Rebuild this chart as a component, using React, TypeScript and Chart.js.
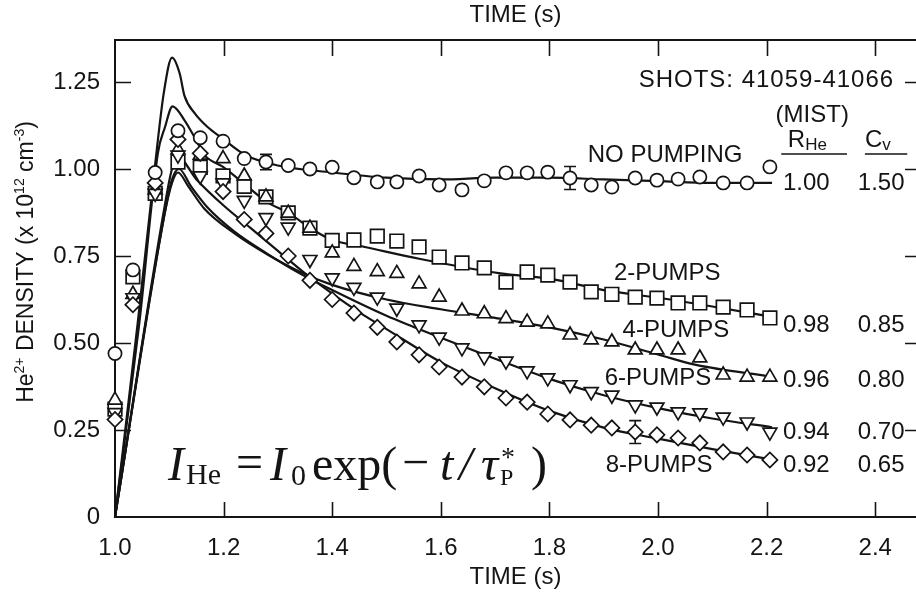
import React, { useEffect, useRef } from "react";
import { Chart, registerables } from "chart.js";

Chart.register(...registerables);

// ---------------- data ----------------
const times = [1.0, 1.033, 1.074, 1.116, 1.157, 1.199, 1.238, 1.278, 1.319, 1.359, 1.4, 1.44, 1.483, 1.519, 1.56, 1.597, 1.639, 1.68, 1.72, 1.759, 1.797, 1.838, 1.877, 1.915, 1.958, 1.998, 2.037, 2.077, 2.12, 2.164, 2.206];

const noPumping = [0.47, 0.71, 0.99, 1.11, 1.09, 1.08, 1.03, 1.02, 1.01, 1.0, 1.005, 0.975, 0.963, 0.963, 0.98, 0.954, 0.94, 0.966, 0.989, 0.989, 0.991, 0.974, 0.954, 0.948, 0.974, 0.968, 0.971, 0.977, 0.96, 0.96, 1.006];
const pumps2 = [0.31, 0.69, 0.93, 1.02, 1.005, 0.98, 0.95, 0.92, 0.874, 0.83, 0.795, 0.796, 0.807, 0.793, 0.776, 0.747, 0.73, 0.716, 0.675, 0.704, 0.695, 0.675, 0.647, 0.64, 0.632, 0.629, 0.615, 0.615, 0.603, 0.595, 0.572];
const pumps4 = [0.336, 0.64, 0.94, 1.055, 1.04, 1.03, 0.98, 0.92, 0.873, 0.83, 0.759, 0.72, 0.705, 0.7, 0.67, 0.632, 0.592, 0.584, 0.57, 0.56, 0.555, 0.523, 0.509, 0.503, 0.48, 0.48, 0.48, 0.457, 0.408, 0.402, 0.402];
const pumps6 = [0.3, 0.63, 0.93, 1.04, 0.98, 0.96, 0.91, 0.86, 0.833, 0.74, 0.687, 0.66, 0.632, 0.6, 0.552, 0.517, 0.486, 0.46, 0.448, 0.42, 0.4, 0.38, 0.36, 0.35, 0.322, 0.316, 0.302, 0.299, 0.287, 0.273, 0.244];
const pumps8 = [0.28, 0.61, 0.96, 1.085, 1.045, 0.935, 0.855, 0.815, 0.75, 0.68, 0.625, 0.586, 0.545, 0.503, 0.466, 0.431, 0.402, 0.374, 0.342, 0.33, 0.296, 0.279, 0.264, 0.256, 0.244, 0.236, 0.227, 0.213, 0.187, 0.178, 0.164];

// model curves (solid lines)
const fitNoPumpingT = [1.0, 1.042, 1.073, 1.09, 1.105, 1.119, 1.128, 1.147, 1.171, 1.196, 1.24, 1.3, 1.4, 1.5, 1.6, 1.7, 1.8, 1.9, 2.0, 2.1, 2.21];
const fitNoPumping = [0, 0.56, 1.0, 1.22, 1.32, 1.275, 1.21, 1.16, 1.12, 1.09, 1.04, 1.01, 0.99, 0.975, 0.97, 0.975, 0.975, 0.97, 0.965, 0.96, 0.96];
const fit2T = [1.0, 1.045, 1.079, 1.092, 1.106, 1.128, 1.147, 1.165, 1.199, 1.236, 1.28, 1.319, 1.365, 1.4, 1.46, 1.56, 1.71, 1.8, 1.9, 2.0, 2.1, 2.21];
const fit2 = [0, 0.56, 1.046, 1.12, 1.18, 1.14, 1.09, 1.04, 1.006, 0.96, 0.905, 0.874, 0.825, 0.796, 0.776, 0.742, 0.7, 0.685, 0.652, 0.63, 0.605, 0.575];
const fit4T = [1.0, 1.09, 1.105, 1.116, 1.135, 1.165, 1.22, 1.28, 1.34, 1.4, 1.5, 1.6, 1.7, 1.8, 1.9, 2.0, 2.07, 2.21];
const fit4 = [0, 0.86, 0.96, 0.99, 0.95, 0.885, 0.815, 0.755, 0.705, 0.667, 0.625, 0.597, 0.572, 0.545, 0.51, 0.467, 0.437, 0.403];
const fit6T = [1.0, 1.09, 1.105, 1.118, 1.14, 1.17, 1.22, 1.28, 1.34, 1.4, 1.5, 1.55, 1.6, 1.7, 1.8, 1.9, 2.0, 2.1, 2.21];
const fit6 = [0, 0.86, 0.97, 1.0, 0.95, 0.89, 0.82, 0.757, 0.7, 0.652, 0.578, 0.546, 0.515, 0.455, 0.397, 0.35, 0.313, 0.283, 0.258];
const fit8T = [1.0, 1.09, 1.105, 1.118, 1.15, 1.2, 1.25, 1.3, 1.35, 1.4, 1.45, 1.5, 1.6, 1.7, 1.8, 1.9, 2.0, 2.1, 2.21];
const fit8 = [0, 0.88, 1.0, 1.03, 0.97, 0.895, 0.83, 0.765, 0.7, 0.642, 0.588, 0.54, 0.445, 0.37, 0.305, 0.257, 0.225, 0.195, 0.165];

// error bars
const errTimes = [1.278, 1.838, 1.958];
const errValues = [1.02, 0.974, 0.244];
const errHalf = [0.022, 0.033, 0.033];

// axes
const xTickValues = [1.0, 1.2, 1.4, 1.6, 1.8, 2.0, 2.2, 2.4];
const xTickLabels = ["1.0", "1.2", "1.4", "1.6", "1.8", "2.0", "2.2", "2.4"];
const yTickValues = [0, 0.25, 0.5, 0.75, 1.0, 1.25];
const yTickLabels = ["0", "0.25", "0.50", "0.75", "1.00", "1.25"];

// annotation texts
const seriesNames = ["NO PUMPING", "2-PUMPS", "4-PUMPS", "6-PUMPS", "8-PUMPS"];
const rHeValues = ["1.00", "0.98", "0.96", "0.94", "0.92"];
const cvValues = ["1.50", "0.85", "0.80", "0.70", "0.65"];
const shotsText = "SHOTS: 41059-41066";

// ---------------- styling ----------------
const SANS = "'Liberation Sans', Arial, Helvetica, sans-serif";
const SERIF = "'Liberation Serif', 'Times New Roman', Times, serif";
const INK = "#141414";
const X_MIN = 1.0;
const X_MAX = 2.4751;
const Y_MIN = 0;
const Y_MAX = 1.3707;

function pts(xs: number[], ys: number[]) {
  return xs.map((x, i) => ({ x, y: ys[i] }));
}

type Run = { t: string; font: string; dy: number };

function drawRuns(ctx: CanvasRenderingContext2D, runs: Run[], x: number, y: number) {
  let cx = x;
  for (const r of runs) {
    ctx.font = r.font;
    ctx.fillText(r.t, cx, y + r.dy);
    cx += ctx.measureText(r.t).width;
  }
  return cx;
}

function runsWidth(ctx: CanvasRenderingContext2D, runs: Run[]) {
  let w = 0;
  for (const r of runs) {
    ctx.font = r.font;
    w += ctx.measureText(r.t).width;
  }
  return w;
}

const inwardTicks = {
  id: "inwardTicks",
  afterDraw(chart: any) {
    const { ctx, chartArea, scales } = chart;
    const { left, right, top, bottom } = chartArea;
    ctx.save();
    ctx.strokeStyle = INK;
    ctx.lineWidth = 1.6;
    ctx.beginPath();
    for (const v of xTickValues) {
      if (v === X_MIN) continue;
      const p = Math.round(scales.x.getPixelForValue(v)) + 0.5;
      ctx.moveTo(p, bottom);
      ctx.lineTo(p, bottom - 15);
      ctx.moveTo(p, top);
      ctx.lineTo(p, top + 16);
    }
    for (const v of yTickValues) {
      if (v === Y_MIN) continue;
      const p = Math.round(scales.y.getPixelForValue(v)) + 0.5;
      ctx.moveTo(left, p);
      ctx.lineTo(left + 16, p);
      ctx.moveTo(right, p);
      ctx.lineTo(right - 11, p);
    }
    ctx.stroke();
    ctx.restore();
  },
};

const errorBars = {
  id: "errorBars",
  beforeDatasetsDraw(chart: any) {
    const { ctx, scales } = chart;
    ctx.save();
    ctx.strokeStyle = INK;
    ctx.lineWidth = 1.6;
    ctx.beginPath();
    errTimes.forEach((t, i) => {
      const x = scales.x.getPixelForValue(t);
      const y1 = scales.y.getPixelForValue(errValues[i] + errHalf[i]);
      const y2 = scales.y.getPixelForValue(errValues[i] - errHalf[i]);
      ctx.moveTo(x, y1);
      ctx.lineTo(x, y2);
      ctx.moveTo(x - 6, y1);
      ctx.lineTo(x + 6, y1);
      ctx.moveTo(x - 6, y2);
      ctx.lineTo(x + 6, y2);
    });
    ctx.stroke();
    ctx.restore();
  },
};

const annotations = {
  id: "annotations",
  afterDraw(chart: any) {
    const { ctx, scales } = chart;
    const sx = (v: number) => scales.x.getPixelForValue(v);
    const sy = (v: number) => scales.y.getPixelForValue(v);
    ctx.save();
    ctx.fillStyle = INK;
    ctx.strokeStyle = INK;
    ctx.textBaseline = "middle";

    // y-axis title with superscripts (rotated)
    ctx.save();
    ctx.translate(27, 262);
    ctx.rotate(-Math.PI / 2);
    const big = `23px ${SANS}`;
    const sup = `14px ${SANS}`;
    const titleRuns: Run[] = [
      { t: "He", font: big, dy: 0 },
      { t: "2+", font: sup, dy: -7 },
      { t: " DENSITY (x 10", font: big, dy: 0 },
      { t: "12", font: sup, dy: -7 },
      { t: " cm", font: big, dy: 0 },
      { t: "-3", font: sup, dy: -7 },
      { t: ")", font: big, dy: 0 },
    ];
    ctx.textAlign = "left";
    drawRuns(ctx, titleRuns, -runsWidth(ctx, titleRuns) / 2, 0);
    ctx.restore();

    // header on the right
    ctx.font = `24px ${SANS}`;
    ctx.textAlign = "right";
    ctx.save();
    (ctx as any).letterSpacing = "1px";
    ctx.fillText(shotsText, sx(2.433) + 1, sy(1.256));
    ctx.restore();
    ctx.font = `24px ${SANS}`;
    ctx.textAlign = "center";
    ctx.fillText("(MIST)", sx(2.284), sy(1.155));
    ctx.textAlign = "left";
    drawRuns(ctx, [
      { t: "R", font: `24px ${SANS}`, dy: 0 },
      { t: "He", font: `17px ${SANS}`, dy: 5 },
    ], sx(2.239), sy(1.083));
    drawRuns(ctx, [
      { t: "C", font: `24px ${SANS}`, dy: 0 },
      { t: "v", font: `17px ${SANS}`, dy: 5 },
    ], sx(2.381), sy(1.083));
    ctx.lineWidth = 1.6;
    ctx.beginPath();
    ctx.moveTo(sx(2.227), sy(1.043));
    ctx.lineTo(sx(2.348), sy(1.043));
    ctx.moveTo(sx(2.381), sy(1.043));
    ctx.lineTo(sx(2.459), sy(1.043));
    ctx.stroke();

    // parameter table
    const rowY = [0.96, 0.552, 0.394, 0.244, 0.149];
    ctx.font = `24px ${SANS}`;
    ctx.textAlign = "left";
    rowY.forEach((y, i) => {
      ctx.fillText(rHeValues[i], sx(2.23), sy(y));
      ctx.fillText(cvValues[i], sx(2.368), sy(y));
    });

    // curve labels
    const labelPos = [
      [2.013, 1.04],
      [2.017, 0.701],
      [2.033, 0.537],
      [2.0, 0.399],
      [2.002, 0.149],
    ];
    ctx.textAlign = "center";
    seriesNames.forEach((n, i) => {
      ctx.fillText(n, sx(labelPos[i][0]), sy(labelPos[i][1]));
    });

    // formula
    ctx.textBaseline = "alphabetic";
    ctx.textAlign = "left";
    const bl = 480;
    const pieces: [string, string, number, number][] = [
      ["I", `italic 48px ${SERIF}`, 168, bl],
      ["He", `30px ${SERIF}`, 186, bl + 4],
      ["=", `48px ${SERIF}`, 236, bl - 2],
      ["I", `italic 48px ${SERIF}`, 270, bl],
      ["0", `30px ${SERIF}`, 291, bl + 5],
      ["exp(", `48px ${SERIF}`, 312, bl],
      ["\u2212", `48px ${SERIF}`, 402, bl - 2],
      ["t", `italic 48px ${SERIF}`, 440, bl],
      ["/", `italic 48px ${SERIF}`, 459, bl],
      ["\u03C4", `italic 48px ${SERIF}`, 481, bl],
      ["*", `28px ${SERIF}`, 501, bl - 14],
      ["P", `24px ${SERIF}`, 500, bl + 5],
      [")", `48px ${SERIF}`, 531, bl],
    ];
    for (const [t, f, x, y] of pieces) {
      ctx.font = f;
      ctx.fillText(t, x, y);
    }
    ctx.restore();
  },
};

export default function App() {
  const canvasRef = useRef<HTMLCanvasElement | null>(null);

  useEffect(() => {
    const canvas = canvasRef.current;
    if (!canvas) return;

    const marker = {
      showLine: false,
      pointBackgroundColor: "#ffffff",
      pointBorderColor: INK,
      pointBorderWidth: 1.7,
      pointHoverRadius: 0,
      clip: false as const,
    };
    const fit = {
      showLine: true,
      borderColor: INK,
      borderWidth: 2.2,
      pointRadius: 0,
      cubicInterpolationMode: "monotone" as const,
      fill: false,
      order: 10,
      clip: false as const,
    };

    const tickIndex = (vals: number[], v: number) => vals.findIndex((t) => Math.abs(t - v) < 1e-9);

    const chart = new Chart(canvas, {
      type: "scatter",
      data: {
        datasets: [
          { ...fit, label: "fit no pumping", data: pts(fitNoPumpingT, fitNoPumping) },
          { ...fit, label: "fit 2 pumps", data: pts(fit2T, fit2) },
          { ...fit, label: "fit 4 pumps", data: pts(fit4T, fit4) },
          { ...fit, label: "fit 6 pumps", data: pts(fit6T, fit6) },
          { ...fit, label: "fit 8 pumps", data: pts(fit8T, fit8) },
          { ...marker, label: seriesNames[1], data: pts(times, pumps2), pointStyle: "rect", pointRadius: 9.6, order: 5 },
          { ...marker, label: seriesNames[2], data: pts(times, pumps4), pointStyle: "triangle", pointRadius: 8, order: 4 },
          { ...marker, label: seriesNames[3], data: pts(times, pumps6), pointStyle: "triangle", pointRotation: 180, pointRadius: 8, order: 3 },
          { ...marker, label: seriesNames[4], data: pts(times, pumps8), pointStyle: "rectRot", pointRadius: 7.6, order: 2 },
          { ...marker, label: seriesNames[0], data: pts(times, noPumping), pointStyle: "circle", pointRadius: 6.6, order: 1 },
        ] as any,
      },
      options: {
        responsive: false,
        maintainAspectRatio: false,
        animation: false,
        devicePixelRatio: 1,
        events: [],
        layout: { padding: 0, autoPadding: false },
        plugins: {
          legend: { display: false },
          tooltip: { enabled: false },
          title: { display: false },
        },
        scales: {
          x: {
            type: "linear",
            position: "bottom",
            min: X_MIN,
            max: X_MAX,
            grid: { display: false, drawTicks: false },
            border: { display: true, color: INK, width: 2 },
            afterBuildTicks: (scale: any) => {
              scale.ticks = xTickValues.map((v) => ({ value: v }));
            },
            afterFit: (scale: any) => {
              scale.height = 79;
              scale.paddingLeft = 0;
              scale.paddingRight = 0;
            },
            ticks: {
              autoSkip: false,
              maxRotation: 0,
              padding: 17,
              color: INK,
              font: { family: SANS, size: 24 },
              callback: (v: any) => {
                const i = tickIndex(xTickValues, Number(v));
                return i >= 0 ? xTickLabels[i] : "";
              },
            },
            title: {
              display: true,
              text: "TIME (s)",
              color: INK,
              font: { family: SANS, size: 24 },
              padding: { top: 0, bottom: 4 },
            },
          },
          xTop: {
            type: "linear",
            position: "top",
            min: X_MIN,
            max: X_MAX,
            grid: { display: false, drawTicks: false },
            border: { display: true, color: INK, width: 2 },
            ticks: { display: false },
            afterFit: (scale: any) => {
              scale.height = 40;
              scale.paddingLeft = 0;
              scale.paddingRight = 0;
            },
            title: {
              display: true,
              text: "TIME (s)",
              color: INK,
              font: { family: SANS, size: 24 },
              padding: { top: 1, bottom: 0 },
            },
          },
          y: {
            type: "linear",
            position: "left",
            min: Y_MIN,
            max: Y_MAX,
            grid: { display: false, drawTicks: false },
            border: { display: true, color: INK, width: 2 },
            afterBuildTicks: (scale: any) => {
              scale.ticks = yTickValues.map((v) => ({ value: v }));
            },
            afterFit: (scale: any) => {
              scale.width = 115;
              scale.paddingTop = 0;
              scale.paddingBottom = 0;
            },
            ticks: {
              autoSkip: false,
              padding: 15,
              color: INK,
              font: { family: SANS, size: 24 },
              callback: (v: any) => {
                const i = tickIndex(yTickValues, Number(v));
                return i >= 0 ? yTickLabels[i] : "";
              },
            },
          },
        },
      } as any,
      plugins: [errorBars, inwardTicks, annotations],
    });

    return () => {
      chart.destroy();
    };
  }, []);

  return (
    <div
      style={{
        position: "fixed",
        left: 0,
        top: 0,
        width: 916,
        height: 596,
        background: "#ffffff",
        overflow: "hidden",
      }}
    >
      <canvas ref={canvasRef} width={916} height={596} style={{ display: "block", width: 916, height: 596 }} />
    </div>
  );
}
